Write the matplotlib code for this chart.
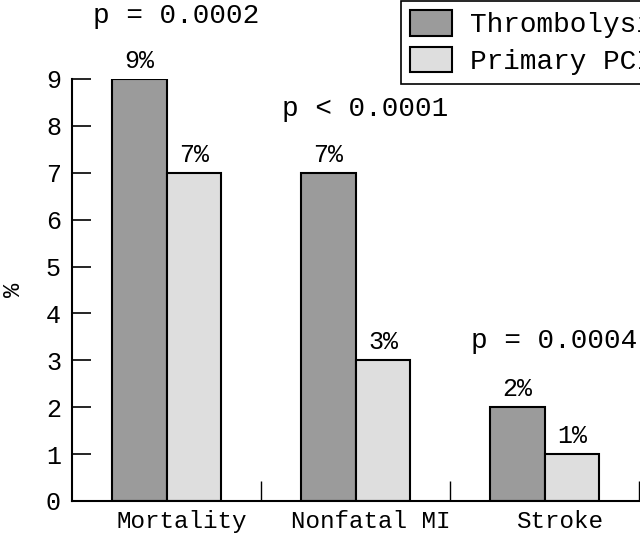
import numpy as np
import matplotlib
matplotlib.use('Agg')
import matplotlib.pyplot as plt
import matplotlib.transforms as mtransforms

categories = ['Mortality', 'Nonfatal MI', 'Stroke']
thrombolysis = [9, 7, 2]
primary_pci = [7, 3, 1]
p_values = ['p = 0.0002', 'p < 0.0001', 'p = 0.0004']
series_names = ['Thrombolysis', 'Primary PCI']

plt.rcParams['font.family'] = ['Liberation Mono', 'DejaVu Sans Mono']

fig = plt.figure(figsize=(6.4, 5.35), dpi=100)
ax = fig.add_axes([0.1125, 0.0636, 0.8875, 0.7888])

x = np.arange(len(categories))
w = 0.29
b1 = ax.bar(x - w / 2, thrombolysis, w, color='#9b9b9b', edgecolor='black',
            linewidth=1.5, label=series_names[0])
b2 = ax.bar(x + w / 2, primary_pci, w, color='#dedede', edgecolor='black',
            linewidth=1.5, label=series_names[1])

# etiquetas de porcentaje sobre cada barra
for bars in (b1, b2):
    for r in bars:
        ax.annotate(f'{int(r.get_height())}%',
                    (r.get_x() + r.get_width() / 2, r.get_height()),
                    xytext=(0, 8), textcoords='offset points',
                    ha='center', va='baseline', fontsize=18, clip_on=False)

# valores p por grupo (altura en unidades del eje)
p_y = [10.19, 8.21, 3.26]
for i, txt in enumerate(p_values):
    ax.text(x[i] + 0.05, p_y[i], txt, ha='center', va='baseline',
            fontsize=20, clip_on=False)

ax.set_xlim(-0.5, 2.505)
ax.set_ylim(0, 9)
ax.set_yticks(range(10))
ax.set_xticks(x)
ax.set_xticklabels(categories, fontsize=17.5)
ax.set_xticks([0.5, 1.5, 2.5], minor=True)
ax.tick_params(axis='x', which='major', length=0, pad=6.5)
ax.tick_params(axis='x', which='minor', direction='in', length=14.5, width=1)
ax.tick_params(axis='y', direction='in', length=14, width=1.2, pad=8, labelsize=18)
offset = mtransforms.ScaledTranslation(0.15, 0, fig.dpi_scale_trans)
for lbl in ax.get_xticklabels():
    lbl.set_transform(lbl.get_transform() + offset)

for s in ('top', 'right'):
    ax.spines[s].set_visible(False)
for s in ('left', 'bottom'):
    ax.spines[s].set_linewidth(1.5)

ax.set_ylabel('%', fontsize=17, labelpad=15)

fig.legend(handles=[b1, b2], loc='upper left', bbox_to_anchor=(401 / 640, 1 - 1 / 535),
           borderaxespad=0, fontsize=20, fancybox=False, edgecolor='black',
           framealpha=1, handlelength=1.5, handleheight=1.05, handletextpad=0.65,
           labelspacing=0.3, borderpad=0.32)
fig.legends[0].get_frame().set_linewidth(1.2)

plt.savefig('out.png', dpi=100)
